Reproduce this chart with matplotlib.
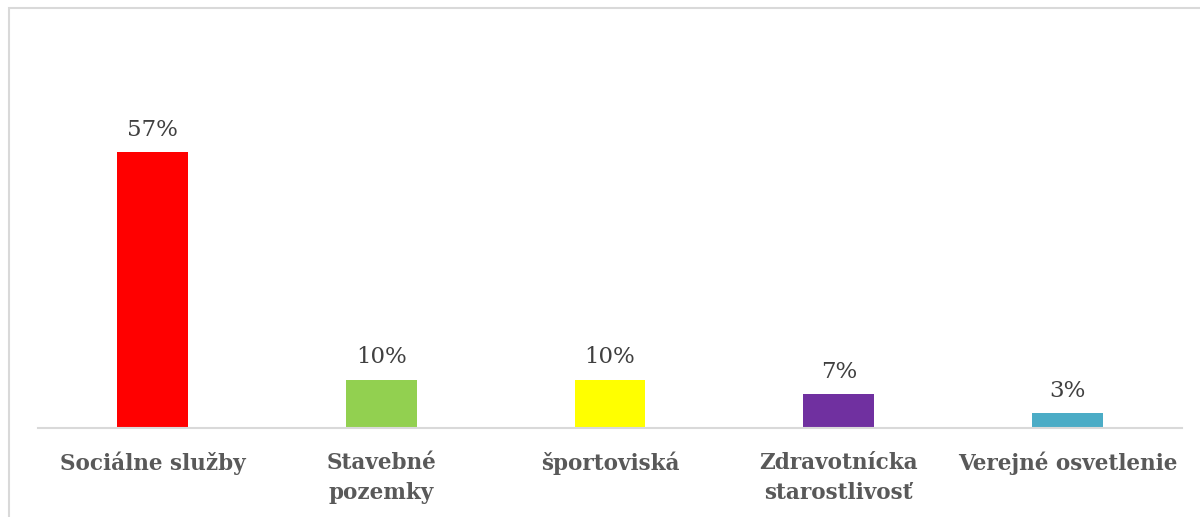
import matplotlib.pyplot as plt
from matplotlib.patches import Rectangle

categories = ["Sociálne služby", "Stavebné\npozemky", "športoviská",
              "Zdravotnícka\nstarostlivosť", "Verejné osvetlenie"]
values = [57, 10, 10, 7, 3]
colors = ["#ff0000", "#92d050", "#ffff00", "#7030a0", "#4bacc6"]


def main():
  fig = plt.figure(figsize=(12, 5.17), dpi=100)
  ax = fig.add_axes([38 / 1200, 89 / 517, 1144 / 1200, 339 / 517])

  x = range(len(categories))
  bars = ax.bar(x, values, width=0.31, color=colors)
  for bar, v in zip(bars, values):
    ax.annotate(f"{v}%", (bar.get_x() + bar.get_width() / 2, v),
                xytext=(0, 8), textcoords="offset points",
                ha="center", va="bottom", fontsize=16.5,
                family="DejaVu Serif", color="#404040")

  ax.set_xlim(-0.5, len(categories) - 0.5)
  ax.set_ylim(0, 70)
  ax.set_xticks(list(x))
  ax.set_xticklabels(categories, fontsize=15.5, fontweight="bold",
                     family="DejaVu Serif", color="#595959",
                     linespacing=1.5)
  ax.tick_params(axis="x", length=0, pad=17)
  ax.set_yticks([])
  for side in ["top", "right", "left"]:
    ax.spines[side].set_visible(False)
  ax.spines["bottom"].set_color("#d9d9d9")
  ax.spines["bottom"].set_linewidth(1.5)

  # chart border (partly cropped at right/bottom)
  fig.patches.append(Rectangle((8.5 / 1200, -0.1), 1.2, (517 - 8) / 517 + 0.1,
                               transform=fig.transFigure, fill=False,
                               edgecolor="#d9d9d9", linewidth=1.5))
  fig.savefig("out.png", dpi=100)


if __name__ == "__main__":
  main()
